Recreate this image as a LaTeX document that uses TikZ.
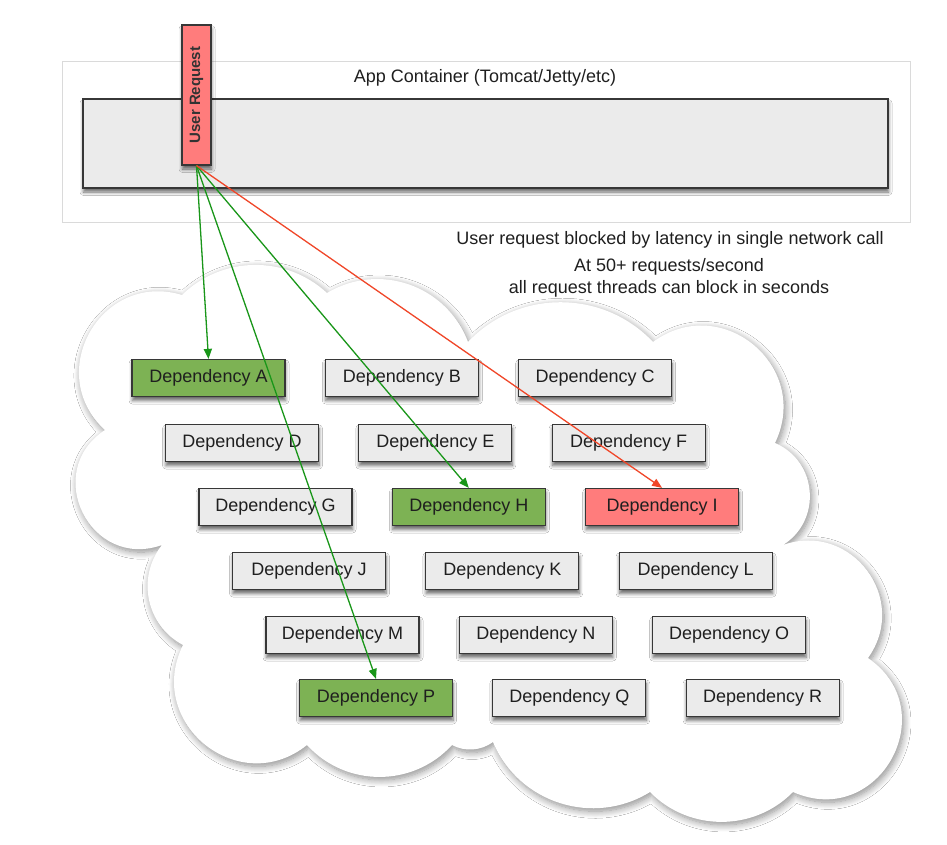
\documentclass[tikz,border=0pt]{standalone}
\usepackage{fontspec}
\usepackage{graphicx}
\setmainfont{Liberation Sans}
\usetikzlibrary{arrows.meta,shadows.blur}
\definecolor{boxgray}{RGB}{235,235,235}
\definecolor{boxgreen}{RGB}{125,178,84}
\definecolor{boxred}{RGB}{255,124,124}
\definecolor{edgedark}{RGB}{55,55,55}
\definecolor{arrgreen}{RGB}{25,150,25}
\definecolor{arrred}{RGB}{240,70,40}
\definecolor{framegray}{RGB}{218,218,218}
\begin{document}
\begin{tikzpicture}[x=1pt,y=-1pt,
  boxshadow/.style={blur shadow={shadow xshift=0.5pt, shadow yshift=-4pt, shadow blur radius=3.5pt, shadow blur steps=6, shadow opacity=60}},
  cloudshadow/.style={blur shadow={shadow xshift=2pt, shadow yshift=-3pt, shadow blur radius=7pt, shadow blur steps=10, shadow opacity=45}},
  dep/.style={draw=edgedark, line width=1.2pt, fill=boxgray, minimum width=153pt, minimum height=37pt, inner sep=0pt, font=\fontsize{18}{20}\selectfont, text=black!88, boxshadow},
  depgreen/.style={dep, fill=boxgreen},
  depred/.style={dep, fill=boxred},
  urbox/.style={draw=edgedark, line width=1.2pt, fill=boxred, minimum width=29pt, minimum height=140pt, inner sep=0pt, font=\fontsize{15}{18}\selectfont\bfseries, text=black!80, boxshadow},
  container/.style={draw=edgedark, line width=1.2pt, fill=boxgray, boxshadow},
  frame/.style={draw=framegray, line width=0.9pt},
  label/.style={font=\fontsize{18}{22}\selectfont, text=black!88, align=center, inner sep=0pt},
  garrow/.style={draw=arrgreen, line width=1.3pt, -{Triangle[length=10pt,width=8pt]}},
  rarrow/.style={draw=arrred, line width=1.3pt, -{Triangle[length=10pt,width=8pt]}}
]
\useasboundingbox (0,0) rectangle (947,845);
\fill[white] (0,0) rectangle (947,845);

% cloud
\fill[white, cloudshadow]
  (182,295) to[bend left=43.6, looseness=0.99] (327,293)
  to[bend left=50.2, looseness=1.04] (468,342)
  to[bend left=46.7, looseness=1.01] (653,342)
  to[bend left=76.1, looseness=1.37] (775,443)
  to[bend left=62.4, looseness=1.16] (783,545)
  to[bend left=72.6, looseness=1.31] (868,658)
  to[bend left=84.7, looseness=1.56] (793,792)
  to[bend left=45.6, looseness=1.0] (650,792)
  to[bend left=49.5, looseness=1.03] (493,742)
  to[bend left=32.4, looseness=0.92] (452,745)
  to[bend left=47.6, looseness=1.02] (307,745)
  to[bend left=77.6, looseness=1.40] (183,645)
  to[bend left=50.4, looseness=1.04] (162,545)
  to[bend left=83.2, looseness=1.52] (105,430)
  to[bend left=77.2, looseness=1.39] (182,295) -- cycle;

% app container
\draw[frame] (62,61) rectangle (910,222);
\draw[container] (83,99) rectangle (888,188);
\node[label] (apptitle) at (485,78) {App Container (Tomcat/Jetty/etc)};
\node[urbox] (ur) at (196.5,95) {\rotatebox{90}{User Request}};

% notes
\node[label] (note1) at (670,240) {User request blocked by latency in single network call};
\node[label] (note2) at (669,278) {At 50+ requests/second\\all request threads can block in seconds};

% dependencies
\node[depgreen] (A) at (208.5,378) {Dependency A};
\node[dep] (B) at (401.8,378) {Dependency B};
\node[dep] (C) at (595.1,378) {Dependency C};
\node[dep] (D) at (242,443) {Dependency D};
\node[dep] (E) at (435.3,443) {Dependency E};
\node[dep] (F) at (628.6,443) {Dependency F};
\node[dep] (G) at (275.5,507) {Dependency G};
\node[depgreen] (H) at (468.8,507) {Dependency H};
\node[depred] (I) at (662.1,507) {Dependency I};
\node[dep] (J) at (309,571) {Dependency J};
\node[dep] (K) at (502.3,571) {Dependency K};
\node[dep] (L) at (695.6,571) {Dependency L};
\node[dep] (M) at (342.5,635) {Dependency M};
\node[dep] (N) at (535.8,635) {Dependency N};
\node[dep] (O) at (729.1,635) {Dependency O};
\node[depgreen] (P) at (376,698) {Dependency P};
\node[dep] (Q) at (569.3,698) {Dependency Q};
\node[dep] (R) at (762.6,698) {Dependency R};

% connectors
\draw[garrow] (ur.south) -- (A.north);
\draw[garrow] (ur.south) -- (P.north);
\draw[garrow] (ur.south) -- (H.north);
\draw[rarrow] (ur.south) -- (I.north);
\end{tikzpicture}
\end{document}
